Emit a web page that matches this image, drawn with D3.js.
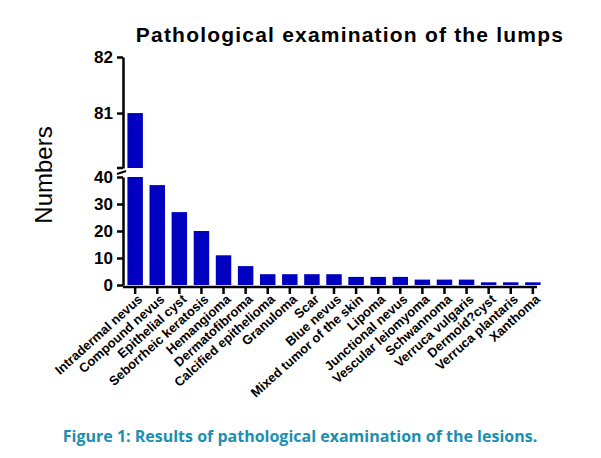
<!DOCTYPE html><html><head><meta charset="utf-8"><script src="https://cdn.jsdelivr.net/npm/d3@7"></script>
<style>body{margin:0;background:#fff}</style></head><body><svg id="c" width="601" height="458"></svg><script>
const categories=["Intradermal nevus","Compound nevus","Epithelial cyst","Seborrheic keratosis","Hemangioma","Dermatofibroma","Calcified epithelioma","Granuloma","Scar","Blue nevus","Mixed tumor of the skin","Lipoma","Junctional nevus","Vescular leiomyoma","Schwannoma","Verruca vulgaris","Dermoid?cyst","Verruca plantaris","Xanthoma"];
const values=[81,37,27,20,11,7,4,4,4,4,3,3,3,2,2,2,1,1,1];
const lowTicks=[0,10,20,30,40];
const highTicks=[81,82];
const svg=d3.select("#c");
const x=d3.scaleBand().domain(categories).range([123,545]).paddingInner(0.3).paddingOuter(0.2);
const yL=d3.scaleLinear().domain([0,40]).range([285,177]);
const yH=d3.scaleLinear().domain([80.02,82]).range([168,57]);
const col="#0000c0";
svg.append("g").selectAll("rect").data(values).join("rect")
 .attr("x",(d,i)=>x(categories[i])).attr("width",x.bandwidth())
 .attr("y",d=>yL(Math.min(d,40))).attr("height",d=>yL(0)-yL(Math.min(d,40))).attr("fill",col);
svg.append("g").selectAll("rect").data(values.filter(d=>d>40)).join("rect")
 .attr("x",x(categories[0])).attr("width",x.bandwidth())
 .attr("y",d=>yH(d)).attr("height",d=>yH(80.02)-yH(d)).attr("fill",col);
const f="bold 17px 'Liberation Sans',Arial,sans-serif";
const gl=svg.append("g").attr("transform","translate(123,0)").call(d3.axisLeft(yL).tickValues(lowTicks).tickSize(6).tickSizeOuter(0));
const gh=svg.append("g").attr("transform","translate(123,0)").call(d3.axisLeft(yH).tickValues(highTicks).tickFormat(d3.format("d")).tickSize(6).tickSizeOuter(0));
[gl,gh].forEach(g=>{g.select(".domain").attr("stroke-width",2.5);g.selectAll(".tick line").attr("stroke-width",2.5);g.selectAll("text").style("font",f).attr("dx",-1);});
gh.append("line").attr("x1",-6).attr("x2",0).attr("y1",168).attr("y2",168).attr("stroke","#000").attr("stroke-width",2.5);
svg.append("line").attr("x1",117).attr("x2",126).attr("y1",174).attr("y2",171).attr("stroke","#000").attr("stroke-width",2);
const gx=svg.append("g").attr("transform","translate(0,287)").call(d3.axisBottom(x).tickSize(7).tickSizeOuter(0));
gx.select(".domain").attr("stroke-width",2.5).attr("d","M123,0H537");
gx.selectAll(".tick line").attr("stroke-width",2.5);
gx.selectAll("text").style("font","bold 13px 'Liberation Sans',Arial,sans-serif").attr("text-anchor","end").attr("transform","translate(5,10) rotate(-42)").attr("dy","0.35em").attr("y",0).attr("x",0);
svg.append("text").attr("x",350).attr("y",42).attr("text-anchor","middle").style("font","bold 21px 'Liberation Sans',Arial,sans-serif").style("letter-spacing","1.2px").text("Pathological examination of the lumps");
svg.append("text").attr("transform","translate(52,175) rotate(-90)").attr("text-anchor","middle").style("font","24px 'Liberation Sans',Arial,sans-serif").text("Numbers");
svg.append("text").attr("x",300).attr("y",442).attr("text-anchor","middle").attr("fill","#1c8fb0").style("font","bold 16px 'Open Sans',sans-serif").text("Figure 1: Results of pathological examination of the lesions.");
</script></body></html>
